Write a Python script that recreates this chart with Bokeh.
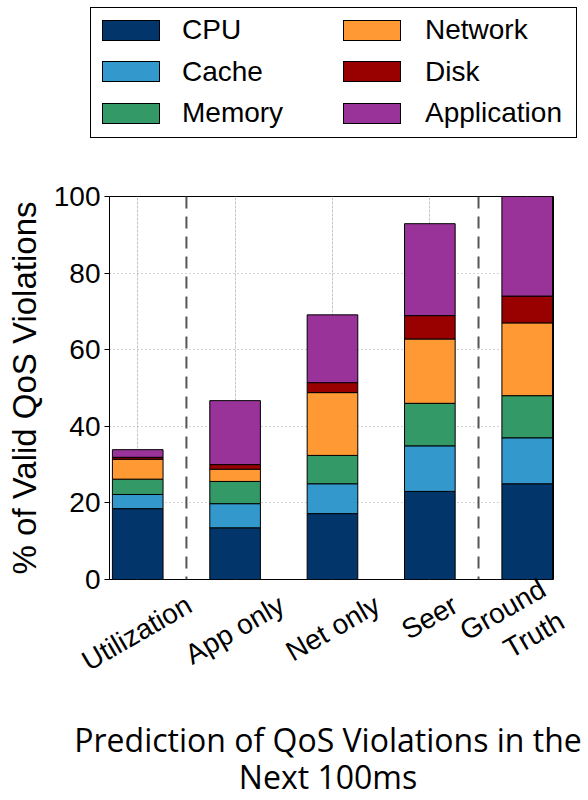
import math

from bokeh.plotting import figure
from bokeh.layouts import column
from bokeh.models import (ColumnDataSource, Range1d, FixedTicker, Grid, Span,
                          LinearAxis, Div)
from bokeh.embed import file_html
from bokeh.resources import INLINE

# Predictors compared, left to right
methods = ["Utilization", "App only", "Net only", "Seer", "Ground\nTruth"]

# Share of valid QoS violations attributed to each resource (percent)
cpu = [18.5, 13.5, 17.2, 23.0, 25.0]
cache = [3.7, 6.3, 7.8, 11.9, 12.0]
memory = [4.0, 5.8, 7.4, 11.1, 11.0]
network = [5.2, 3.2, 16.4, 16.8, 19.0]
disk = [0.5, 1.2, 2.6, 6.1, 7.0]
application = [2.0, 16.7, 17.7, 24.0, 26.0]

components = ["CPU", "Cache", "Memory", "Network", "Disk", "Application"]
colors = ["#02356a", "#3399cc", "#339966", "#ff9933", "#990000", "#993399"]

y_ticks = [0, 20, 40, 60, 80, 100]

caption_lines = ["Prediction of QoS Violations in the", "Next 100ms"]

positions = list(range(len(methods)))

# rotated names are right-aligned on their tick; nudge each tick to the right
# so the slanted text sits centred under its bar
label_shift = [0.53, 0.48, 0.46, 0.26, 0.26]

W = 588

# ---- legend strip (two columns of swatches) ------------------------------
row_centers = [30, 71.5, 113]
swatch_left = [102, 343]
text_left = [182, 425]
parts = ['<div style="position:relative;width:588px;height:160px;">',
         '<div style="position:absolute;left:90px;top:7px;width:487px;height:131px;'
         'border:1px solid black;box-sizing:border-box;background:white;"></div>']
for i, (name, color) in enumerate(zip(components, colors)):
    col, row = divmod(i, 3)
    cy = row_centers[row]
    parts.append(
        f'<div style="position:absolute;left:{swatch_left[col]}px;top:{cy - 10.5}px;'
        f'width:58px;height:21px;background:{color};border:1px solid black;'
        f'box-sizing:border-box;"></div>')
    parts.append(
        f'<div style="position:absolute;left:{text_left[col]}px;top:{cy - 14}px;'
        f'height:28px;line-height:28px;font-family:\'Liberation Sans\';font-size:28px;'
        f'color:black;white-space:nowrap;">{name}</div>')
parts.append('</div>')
legend_div = Div(text="".join(parts), width=W, height=160, margin=0)

# ---- main chart -----------------------------------------------------------
source = ColumnDataSource(dict(
    x=positions,
    CPU=cpu, Cache=cache, Memory=memory, Network=network,
    Disk=disk, Application=application,
))

p = figure(width=W, height=560,
           x_range=Range1d(-0.29, 4.27), y_range=Range1d(0, 100),
           x_axis_location=None,
           output_backend="svg", toolbar_location=None,
           min_border_left=109, min_border_right=35,
           min_border_top=36, min_border_bottom=141)

p.background_fill_color = "white"
p.border_fill_color = "white"
p.outline_line_color = "black"
p.outline_line_width = 1
p.outline_line_alpha = 1.0

ax = p.yaxis[0]
ax.ticker = FixedTicker(ticks=y_ticks)
ax.major_label_text_font = "Liberation Sans"
ax.major_label_text_font_size = "28px"
ax.major_label_text_color = "black"
ax.major_label_standoff = 4
ax.major_tick_out = 5
ax.major_tick_in = 0
ax.minor_tick_out = 0
ax.minor_tick_in = 0
ax.axis_line_color = "black"
ax.major_tick_line_color = "black"
ax.axis_label = "% of Valid QoS Violations"
ax.axis_label_text_font = "Liberation Sans"
ax.axis_label_text_font_size = "33px"
ax.axis_label_text_font_style = "normal"
ax.axis_label_text_color = "black"
ax.axis_label_standoff = 8

label_ticks = [pos + s for pos, s in zip(positions, label_shift)]
xax = LinearAxis(
    ticker=FixedTicker(ticks=label_ticks),
    major_label_overrides={t: m for t, m in zip(label_ticks, methods)},
    major_label_orientation=math.radians(30),
    major_label_text_font="Liberation Sans",
    major_label_text_font_size="28px",
    major_label_text_color="black",
    major_label_standoff=23,
    major_tick_out=0, major_tick_in=0,
    minor_tick_out=0, minor_tick_in=0,
    axis_line_color=None,
)
p.add_layout(xax, "below")

p.ygrid.ticker = FixedTicker(ticks=y_ticks[1:-1])
p.ygrid.grid_line_color = "#a8a8a8"
p.ygrid.grid_line_dash = "1 3"
p.ygrid.grid_line_width = 1
p.add_layout(Grid(dimension=0, ticker=FixedTicker(ticks=positions),
                  grid_line_color="#a8a8a8", grid_line_dash="1 3", grid_line_width=1))

p.vbar_stack(components, x="x", width=0.52, source=source,
             fill_color=colors, line_color="black", line_width=1)

# group separators
for loc in (0.5, 3.5):
    p.add_layout(Span(location=loc, dimension="height", line_color="#555555",
                      line_dash="12 8", line_width=2))

# ---- caption --------------------------------------------------------------
cap_parts = ['<div style="position:relative;width:588px;height:80px;'
             'font-family:\'Open Sans\';font-size:32px;color:black;">']
for text, top in zip(caption_lines, (4, 41)):
    cap_parts.append(
        f'<div style="position:absolute;left:328px;top:{top}px;transform:translateX(-50%);'
        f'white-space:nowrap;line-height:32px;">{text}</div>')
cap_parts.append('</div>')
caption_div = Div(text="".join(cap_parts), width=W, height=80, margin=0)

layout = column(legend_div, p, caption_div, spacing=0)
open("out.html", "w").write(file_html(layout, INLINE))
